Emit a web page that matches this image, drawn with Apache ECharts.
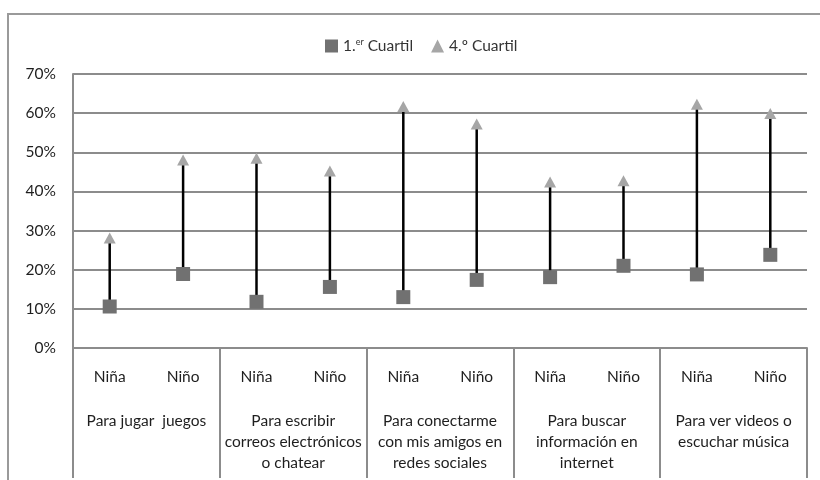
<!DOCTYPE html>
<html>
<head>
<meta charset="utf-8">
<script src="https://cdn.jsdelivr.net/npm/echarts@6/dist/echarts.min.js"></script>
<style>
  html, body { margin: 0; padding: 0; background: #fff; }
  #main { width: 820px; height: 480px; }
</style>
</head>
<body>
<div id="main"></div>
<script>
// datos del gráfico
var genders = ['Niña', 'Niño', 'Niña', 'Niño', 'Niña', 'Niño', 'Niña', 'Niño', 'Niña', 'Niño'];
var groups = [
  'Para jugar  juegos',
  'Para escribir\ncorreos electrónicos\no chatear',
  'Para conectarme\ncon mis amigos en\nredes sociales',
  'Para buscar\ninformación en\ninternet',
  'Para ver videos o\nescuchar música'
];
var q1 = [10.6, 18.9, 11.8, 15.6, 13.0, 17.4, 18.1, 21.0, 18.8, 23.8];
var q4 = [28.1, 48.0, 48.5, 45.2, 61.7, 57.2, 42.4, 42.7, 62.3, 59.9];
var yTicks = [0, 10, 20, 30, 40, 50, 60, 70];

var gridColor = '#8c8c8c';
var font = 'Lato';
var fs = 15.5;
var txt = '#1e1e1e';

var myChart = echarts.init(document.getElementById('main'));

var ranges = q1.map(function (v, i) { return [i, v, q4[i]]; });

option = {
  animation: false,
  backgroundColor: '#fff',
  textStyle: { fontFamily: font },
  graphic: [{
    type: 'rect',
    shape: { x: 8, y: 14, width: 830, height: 500 },
    style: { fill: 'none', stroke: '#9a9a9a', lineWidth: 2 },
    silent: true
  }],
  legend: {
    top: 33,
    left: 320,
    itemGap: 18,
    itemWidth: 13,
    itemHeight: 13,
    data: ['1.er Cuartil', '4.º Cuartil'],
    formatter: function (name) {
      if (name === '1.er Cuartil') return '1.{sup|er} Cuartil';
      return name;
    },
    textStyle: {
      fontFamily: font,
      fontSize: fs,
      color: '#333',
      rich: {
        sup: { fontSize: 9, verticalAlign: 'top', padding: [0, 0, 7, 0], color: '#333', fontFamily: font }
      }
    }
  },
  grid: { left: 73, right: 13, top: 74, bottom: 132 },
  xAxis: [{
    type: 'category',
    data: genders,
    position: 'bottom',
    axisLine: { show: true, lineStyle: { color: gridColor, width: 2 } },
    axisTick: { show: false },
    axisLabel: { margin: 21, fontSize: fs, color: txt, fontFamily: font }
  }, {
    type: 'category',
    data: groups,
    position: 'bottom',
    offset: 0,
    axisLine: { show: false },
    axisTick: { show: true, length: 130, lineStyle: { color: gridColor, width: 2 } },
    axisLabel: { margin: 62, fontSize: fs, lineHeight: 21, color: txt, fontFamily: font, interval: 0 }
  }],
  yAxis: {
    type: 'value',
    min: yTicks[0],
    max: yTicks[yTicks.length - 1],
    interval: 10,
    axisLine: { show: true, lineStyle: { color: gridColor, width: 2 } },
    axisTick: { show: false },
    splitLine: { lineStyle: { color: gridColor, width: 2 } },
    axisLabel: { formatter: '{value}%', margin: 17, fontSize: fs, color: txt, fontFamily: font }
  },
  series: [{
    type: 'custom',
    name: 'rango',
    data: ranges,
    z: 1,
    renderItem: function (params, api) {
      var lo = api.coord([api.value(0), api.value(1)]);
      var hi = api.coord([api.value(0), api.value(2)]);
      return {
        type: 'line',
        shape: { x1: lo[0], y1: lo[1], x2: hi[0], y2: hi[1] },
        style: { stroke: '#000', lineWidth: 2.5 }
      };
    }
  }, {
    name: '1.er Cuartil',
    type: 'scatter',
    data: q1,
    symbol: 'rect',
    symbolSize: 14,
    itemStyle: { color: '#717171', opacity: 1 },
    z: 3
  }, {
    name: '4.º Cuartil',
    type: 'scatter',
    data: q4,
    symbol: 'triangle',
    symbolSize: [12, 11],
    itemStyle: { color: '#a6a6a6', opacity: 1 },
    z: 3
  }]
};

myChart.setOption(option);
</script>
</body>
</html>
